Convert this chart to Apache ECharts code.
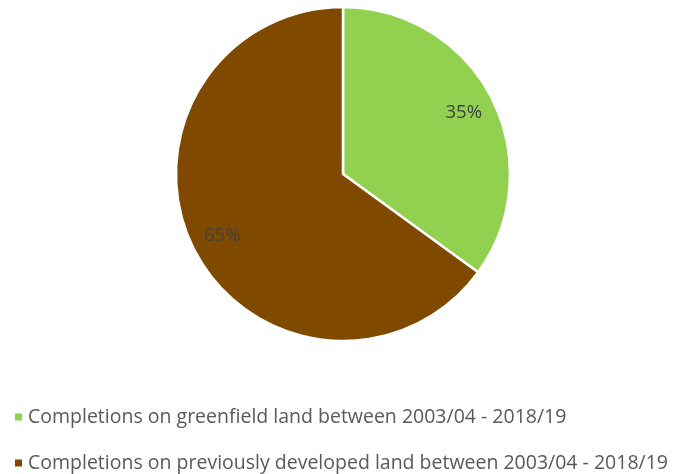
<!DOCTYPE html>
<html><head><meta charset="utf-8">
<script src="https://cdn.jsdelivr.net/npm/echarts@6/dist/echarts.min.js"></script>
<style>html,body{margin:0;padding:0;background:#fff}#c{width:685px;height:474px}</style>
</head><body><div id="c"></div>
<script>
const categories = ['Completions on greenfield land between 2003/04 - 2018/19','Completions on previously developed land between 2003/04 - 2018/19'];
const values = [35, 65];
const colors = ['#92D050', '#7F4A00'];

const chart = echarts.init(document.getElementById('c'));
const data = categories.map((n, i) => ({name: n, value: values[i], itemStyle: {color: colors[i]}}));
const legendTops = [402, 448];
chart.setOption({
  animation: false,
  textStyle: {fontFamily: 'Open Sans'},
  legend: categories.map((n, i) => ({
    orient: 'horizontal', left: 8, top: legendTops[i], itemHeight: 9,
    icon: 'rect', itemWidth: 9,
    textStyle: {fontSize: 19.5, color: '#595959', fontFamily: 'Open Sans'},
    data: [n]
  })),
  series: [{
    type: 'pie', center: [343, 174], radius: [0, 167], startAngle: 90, clockwise: true,
    label: {show: false}, labelLine: {show: false},
    itemStyle: {borderColor: '#fff', borderWidth: 2.5},
    emphasis: {disabled: true},
    data: data
  }, {
    type: 'pie', center: [343, 174], radius: [98, 167], startAngle: 90, clockwise: true,
    silent: true,
    itemStyle: {color: 'rgba(0,0,0,0)'},
    label: {show: true, position: 'inside', formatter: '{c}%', fontSize: 18.5, color: '#404040', fontFamily: 'Open Sans'},
    labelLine: {show: false},
    emphasis: {disabled: true},
    data: categories.map((n, i) => ({name: n, value: values[i]}))
  }]
});
</script></body></html>
